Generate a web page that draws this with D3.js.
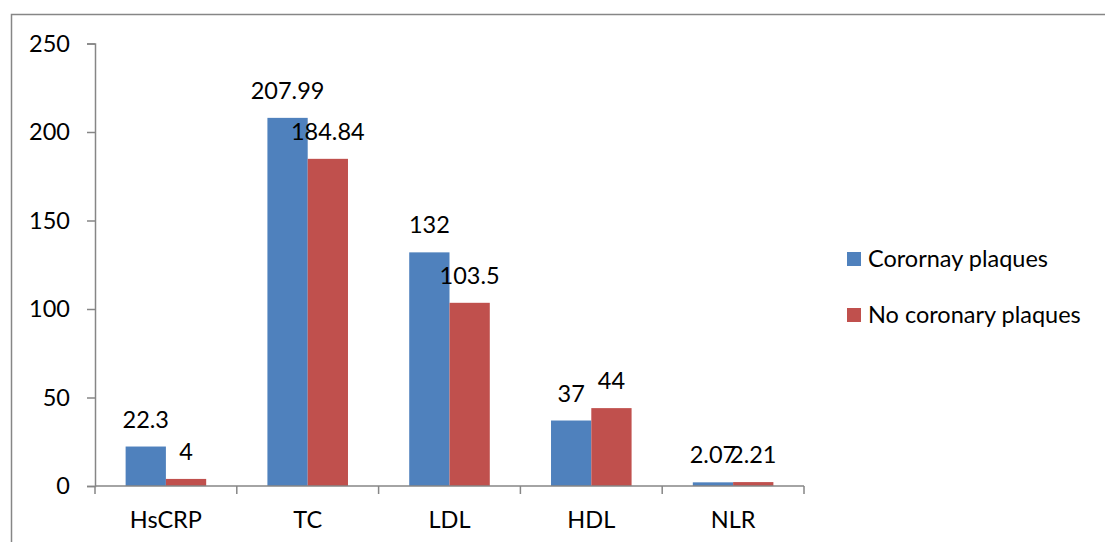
<!DOCTYPE html>
<html>
<head>
<meta charset="utf-8">
<script src="https://cdn.jsdelivr.net/npm/d3@7"></script>
<style>
  body { margin: 0; background: #fff; }
  text { font-family: Lato, "Open Sans", sans-serif; fill: #000; }
</style>
</head>
<body>
<div id="chart"></div>
<script>
// Data
const categories = ["HsCRP", "TC", "LDL", "HDL", "NLR"];
const seriesNames = ["Corornay plaques", "No coronary plaques"];
const plaques = [22.3, 207.99, 132, 37, 2.07];
const noPlaques = [4, 184.84, 103.5, 44, 2.21];
const yTicks = [0, 50, 100, 150, 200, 250];
const colors = ["#4F81BD", "#C0504D"];

const width = 1105, height = 542;
const fs = "23.5px";
const svg = d3.select("#chart").append("svg")
    .attr("width", width)
    .attr("height", height);

// outer frame (runs off right and bottom edges)
svg.append("rect")
    .attr("x", 11.5).attr("y", 14.5)
    .attr("width", 1200).attr("height", 600)
    .style("fill", "none")
    .style("stroke", "#868686")
    .style("stroke-width", 1.5);

const plot = { left: 95, right: 804, top: 43.5, bottom: 486 };

const x = d3.scaleBand()
    .domain(categories)
    .range([plot.left, plot.right])
    .paddingInner(0)
    .paddingOuter(0);

const x1 = d3.scaleBand()
    .domain([0, 1])
    .range([0, x.bandwidth()])
    .paddingOuter(0.76)
    .paddingInner(0);

const y = d3.scaleLinear()
    .domain([0, 250])
    .range([plot.bottom, plot.top]);

// bars
const series = [plaques, noPlaques];
series.forEach((vals, s) => {
    svg.append("g").selectAll("rect")
        .data(vals)
        .join("rect")
        .attr("x", (d, i) => x(categories[i]) + x1(s))
        .attr("y", d => y(d))
        .attr("width", x1.bandwidth())
        .attr("height", d => y(0) - y(d))
        .style("fill", colors[s]);

    svg.append("g").selectAll("text")
        .data(vals)
        .join("text")
        .attr("x", (d, i) => x(categories[i]) + x1(s) + x1.bandwidth() / 2)
        .attr("y", d => y(d) - 19)
        .attr("text-anchor", "middle")
        .style("font-size", fs)
        .text(d => d);
});

// y axis
const yAxis = svg.append("g")
    .attr("transform", `translate(${plot.left},0)`)
    .call(d3.axisLeft(y).tickValues(yTicks).tickSize(8).tickPadding(17));
yAxis.select(".domain").attr("stroke", "#868686").attr("stroke-width", 1.5);
yAxis.selectAll(".tick line").attr("stroke", "#868686").attr("stroke-width", 1.5);
yAxis.selectAll(".tick text")
    .style("font-size", fs)
    .style("font-family", "Lato, sans-serif")
    .attr("fill", "#000");

// x axis: ticks on category boundaries
const xAxis = svg.append("g")
    .attr("transform", `translate(0,${plot.bottom})`);
xAxis.append("line")
    .attr("x1", plot.left).attr("x2", plot.right)
    .attr("y1", 0).attr("y2", 0)
    .style("stroke", "#868686").style("stroke-width", 1.5);
const bounds = categories.map(c => x(c)).concat([x(categories[categories.length - 1]) + x.bandwidth()]);
xAxis.selectAll("line.tk")
    .data(bounds)
    .join("line")
    .attr("class", "tk")
    .attr("x1", d => d).attr("x2", d => d)
    .attr("y1", 0).attr("y2", 8)
    .style("stroke", "#868686").style("stroke-width", 1.5);
xAxis.selectAll("text")
    .data(categories)
    .join("text")
    .attr("x", d => x(d) + x.bandwidth() / 2)
    .attr("y", 42)
    .attr("text-anchor", "middle")
    .style("font-size", fs)
    .text(d => d);

// legend
const legend = svg.append("g").attr("transform", "translate(847,252)");
seriesNames.forEach((name, i) => {
    const g = legend.append("g").attr("transform", `translate(0,${i * 56})`);
    g.append("rect")
        .attr("width", 14).attr("height", 14)
        .style("fill", colors[i]);
    g.append("text")
        .attr("x", 21).attr("y", 15)
        .style("font-size", fs)
        .text(name);
});
</script>
</body>
</html>
